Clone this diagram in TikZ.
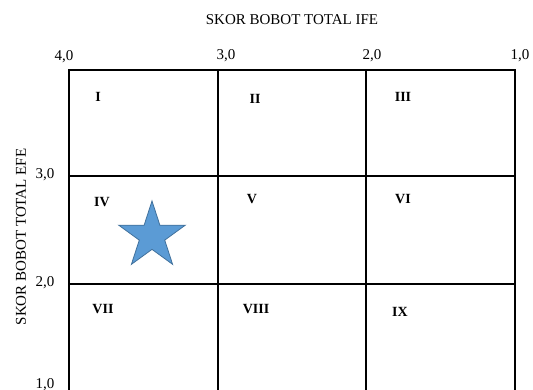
\documentclass[tikz,border=0pt]{standalone}
\usepackage{fontspec}
\setmainfont{Liberation Serif}
\usetikzlibrary{shapes.geometric}
\definecolor{starfill}{HTML}{5B9BD5}
\definecolor{starline}{HTML}{41719C}
\tikzset{
  grid/.style={line width=1.5pt, black},
  lbl/.style={font=\fontsize{15}{17}\selectfont, inner sep=0pt},
  cell/.style={font=\fontsize{14}{16}\selectfont\bfseries, inner sep=0pt},
  starmark/.style={star, star points=5, star point ratio=2.618, minimum size=70pt, inner sep=0pt, fill=starfill, draw=starline, line width=0.8pt}
}
\begin{document}
\begin{tikzpicture}[x=1pt,y=-1pt]
\useasboundingbox (0,0) rectangle (533,390);
\fill[white] (0,0) rectangle (533,390);
% grid
\coordinate (tl) at (69,70);
\coordinate (tr) at (515,70);
\draw[grid] (69,395) -- (tl) -- (tr) -- (515,395);
\draw[grid] (218,70) -- (218,395);
\draw[grid] (366,70) -- (366,395);
\draw[grid] (69,176) -- (515,176);
\draw[grid] (69,284) -- (515,284);
% titles
\node[lbl] (ife) at (292,20) {SKOR BOBOT TOTAL IFE};
\node[lbl, rotate=90] (efe) at (21,237) {SKOR BOBOT TOTAL EFE};
% axis numbers
\node[lbl] (t4) at (64,57) {4,0};
\node[lbl] (t3) at (226,56) {3,0};
\node[lbl] (t2) at (372,56) {2,0};
\node[lbl] (t1) at (520,56) {1,0};
\node[lbl] (l3) at (45,175) {3,0};
\node[lbl] (l2) at (45,283) {2,0};
\node[lbl] (l1) at (45,385) {1,0};
% cells
\node[cell] (c1) at (98,97) {I};
\node[cell] (c2) at (255,99) {II};
\node[cell] (c3) at (403,97) {III};
\node[cell] (c4) at (102,202) {IV};
\node[cell] (c5) at (252,199) {V};
\node[cell] (c6) at (403,199) {VI};
\node[cell] (c7) at (103,309) {VII};
\node[cell] (c8) at (256,309) {VIII};
\node[cell] (c9) at (400,312) {IX};
% star
\node[starmark] (st) at (152,236) {};
\end{tikzpicture}
\end{document}
